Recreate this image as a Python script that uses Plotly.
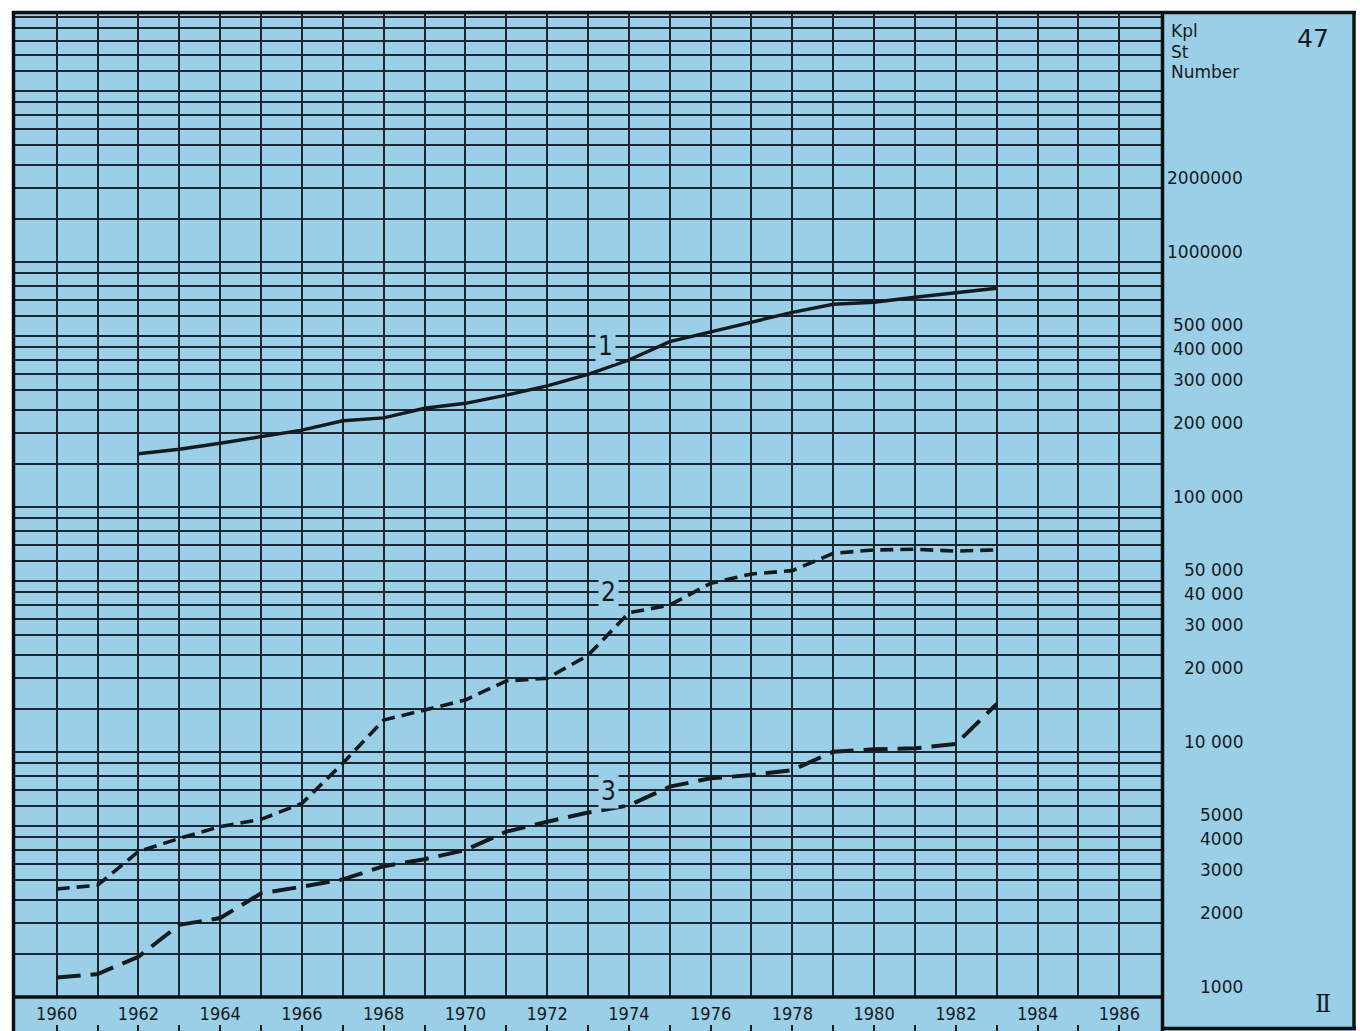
import math
import plotly.graph_objects as go

# ---------------- data ----------------
years_1 = list(range(1962, 1984))
series_1 = [165000, 172000, 182000, 194000, 206000, 225000, 231000, 253000,
            265000, 286000, 312000, 348000, 398000, 473000, 519000, 570000,
            623000, 672000, 685000, 718000, 749000, 781000]

years_23 = list(range(1960, 1984))
series_2 = [2760, 2860, 3920, 4440, 4960, 5310, 6170, 8990, 13500, 14800,
            16300, 19500, 20000, 24800, 37000, 39800, 48800, 53300, 55000,
            64700, 66800, 67200, 66100, 66800]
series_3 = [1200, 1240, 1460, 1970, 2100, 2650, 2820, 3020, 3420, 3650,
            3980, 4730, 5190, 5660, 6050, 7220, 7810, 8050, 8440, 10030,
            10260, 10350, 10780, 15700]

series_names = ["1", "2", "3"]
series_label_x = [1973.42, 1973.51, 1973.49]
series_label_y = [454000, 45000, 6930]

x_label_years = list(range(1960, 1987, 2))
x_label_text = [str(y) for y in x_label_years]
x_odd_years = list(range(1961, 1987, 2))
all_years = list(range(1960, 1987))

y_decades = [1e3, 1e4, 1e5, 1e6, 1e7]
y_minor_mult = [1.5, 2, 2.5, 3, 3.5, 4, 4.5, 5, 6, 7, 8, 9]
y_minor_vals = [m * d for d in y_decades[:-1] for m in y_minor_mult]

y_label_values = [2000000, 1000000, 500000, 400000, 300000, 200000, 100000,
                  50000, 40000, 30000, 20000, 10000, 5000, 4000, 3000, 2000, 1000]
y_label_text = ["2000000", "1000000", "500 000", "400 000", "300 000", "200 000",
                "100 000", "50 000", "40 000", "30 000", "20 000", "10 000",
                "5000", "4000", "3000", "2000", "1000"]

unit_lines = ["Kpl", "St", "Number"]
page_number = "47"
section_mark = "Ⅱ"

# ---------------- styling / geometry ----------------
W, H = 1360, 1031
PL, PR, PT, PB = 14, 1162, 13, 1031
AXIS_Y = 997
PX_PER_YEAR = 40.87
X1960_PX = 56.7
PX_PER_DECADE = 245.0

BLUE = "#9bcfe7"
INK = "#141b20"
GRID = "#1a2731"
NARROW = "Liberation Sans Narrow, DejaVu Sans Condensed, Liberation Sans"

x_range = [1960 - (X1960_PX - PL) / PX_PER_YEAR, 1960 + (PR - X1960_PX) / PX_PER_YEAR]
y_range = [3, 3 + (AXIS_Y - PT) / PX_PER_DECADE]
y_dom0 = (PB - AXIS_Y) / (PB - PT)


def px_x(p):
    return (p - PL) / (PR - PL)


def px_y(p):
    return (PB - p) / (PB - PT)


fig = go.Figure()

fig.add_trace(go.Scatter(x=years_1, y=series_1, mode="lines",
                         line=dict(color=INK, width=3.4), showlegend=False,
                         hoverinfo="skip"))
fig.add_trace(go.Scatter(x=years_23, y=series_2, mode="lines",
                         line=dict(color=INK, width=3.6, dash="13px,7px"),
                         showlegend=False, hoverinfo="skip"))
fig.add_trace(go.Scatter(x=years_23, y=series_3, mode="lines",
                         line=dict(color=INK, width=4.0, dash="24px,10px"),
                         showlegend=False, hoverinfo="skip"))
# carrier trace for the bottom tick axis
fig.add_trace(go.Scatter(x=[all_years[0]], y=[y_label_values[-1]], xaxis="x2",
                         mode="markers", marker=dict(opacity=0),
                         showlegend=False, hoverinfo="skip"))

shapes = [
    dict(type="rect", xref="paper", yref="paper", x0=px_x(13), x1=px_x(1355),
         y0=px_y(1031), y1=px_y(12), fillcolor=BLUE, line=dict(width=0),
         layer="below"),
]
border = dict(color="#0d1114", width=3.5)
for (x0, y0, x1, y1) in [(12, 12.5, 1356, 12.5), (13.5, 11, 13.5, 1031),
                         (1162.5, 11, 1162.5, 1031), (1354, 11, 1354, 1030),
                         (1161, 1028.5, 1356, 1028.5), (12, AXIS_Y, 1163, AXIS_Y)]:
    shapes.append(dict(type="line", xref="paper", yref="paper",
                       x0=px_x(x0), x1=px_x(x1), y0=px_y(y0), y1=px_y(y1),
                       line=border, layer="above"))

annotations = []
for v, t in zip(y_label_values, y_label_text):
    annotations.append(dict(xref="paper", yref="y", x=px_x(1245), y=math.log10(v),
                            text=t, showarrow=False, xanchor="right",
                            yanchor="middle", yshift=10.5,
                            font=dict(family="DejaVu Sans", size=17, color=INK)))
for name, lx, ly in zip(series_names, series_label_x, series_label_y):
    annotations.append(dict(xref="x", yref="y", x=lx, y=math.log10(ly), text=name,
                            showarrow=False, xanchor="center", yanchor="middle",
                            bgcolor=BLUE, borderpad=2,
                            font=dict(family=NARROW, size=26, color=INK)))
for i, t in enumerate(unit_lines):
    annotations.append(dict(xref="paper", yref="paper", x=px_x(1169),
                            y=px_y(31 + 20.5 * i), text=t, showarrow=False,
                            xanchor="left", yanchor="middle",
                            font=dict(family="DejaVu Sans", size=17, color=INK)))
annotations.append(dict(xref="paper", yref="paper", x=px_x(1313), y=px_y(38),
                        text=page_number, showarrow=False, xanchor="center",
                        yanchor="middle",
                        font=dict(family="DejaVu Sans", size=25, color=INK)))
annotations.append(dict(xref="paper", yref="paper", x=px_x(1323), y=px_y(1004),
                        text=section_mark, showarrow=False, xanchor="center",
                        yanchor="middle",
                        font=dict(family="DejaVu Serif", size=24, color=INK)))

fig.update_layout(
    width=W, height=H,
    margin=dict(l=PL, r=W - PR, t=PT, b=H - PB, pad=0),
    paper_bgcolor="white", plot_bgcolor=BLUE,
    showlegend=False,
    xaxis=dict(range=x_range, tickmode="array", tickvals=x_label_years,
               ticktext=x_label_text, ticks="", showline=False, zeroline=False,
               showgrid=True, gridcolor=GRID, gridwidth=1.5,
               minor=dict(tickvals=x_odd_years, showgrid=True, gridcolor=GRID,
                          gridwidth=1.5, ticks=""),
               tickfont=dict(family=NARROW, size=18, color=INK),
               ticklabelstandoff=4, anchor="y", fixedrange=True),
    xaxis2=dict(range=x_range, overlaying="x", anchor="free", position=0,
                side="bottom", tickmode="array", tickvals=all_years,
                ticks="inside", ticklen=6, tickwidth=1.5, tickcolor=INK,
                showticklabels=False, showgrid=False, showline=False,
                zeroline=False, fixedrange=True),
    yaxis=dict(type="log", range=y_range, domain=[y_dom0, 1], tickmode="array",
               tickvals=y_decades, showticklabels=False, ticks="",
               showgrid=True, gridcolor=GRID, gridwidth=2.4, zeroline=False,
               showline=False,
               minor=dict(tickvals=y_minor_vals, showgrid=True, gridcolor=GRID,
                          gridwidth=1.5, ticks=""),
               fixedrange=True),
    shapes=shapes,
    annotations=annotations,
)

fig.write_html("out.html",
               config={"displayModeBar": False},
               post_script="document.body.style.margin='0';document.body.style.padding='0';")
